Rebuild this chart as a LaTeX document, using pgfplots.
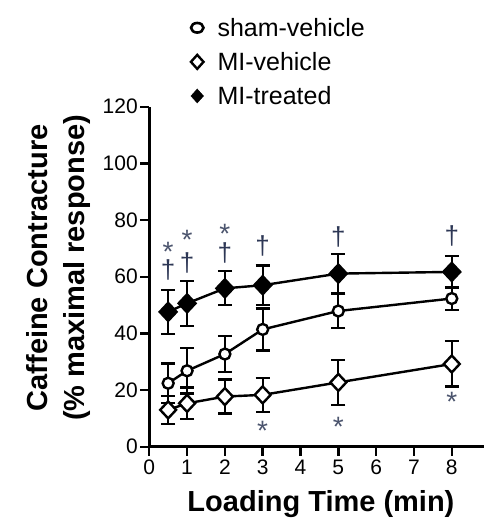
\documentclass[border=0pt]{standalone}
\usepackage{pgfplots}
\pgfplotsset{compat=1.18}
\usepackage{fontspec}
\setmainfont{Liberation Sans}
\definecolor{annot}{RGB}{45,55,85}
\newcommand\lowast{\raisebox{-0.42em}[0.32em][0pt]{*}}
\newcommand\tdag{\raisebox{0pt}[0.68em][0.08em]{†}}
\newcommand\tickfont{\fontsize{21}{24}\selectfont}
\begin{document}
\begin{tikzpicture}
\begin{axis}[
    scale only axis,
    width=334.7pt, height=340pt,
    xmin=0, xmax=8.85, ymin=0, ymax=120,
    axis x line=bottom, axis y line=left,
    axis line style={-, line width=2.6pt},
    xtick={0,1,...,8}, ytick={0,20,...,120},
    tick align=outside, major tick length=9pt,
    tick style={line width=2.4pt, black},
    /pgf/number format/assume math mode=true,
    xticklabel={\tickfont\pgfmathprintnumber{\tick}},
    yticklabel={\tickfont\pgfmathprintnumber{\tick}},
    xticklabel style={yshift=-1pt},
    yticklabel style={xshift=1pt},
    xlabel={Loading Time (min)},
    ylabel={Caffeine Contracture\\(\% maximal response)},
    xlabel style={font=\bfseries\fontsize{29}{37}\selectfont, at={(axis description cs:0.513,0)}, anchor=center, yshift=-57pt},
    ylabel style={font=\bfseries\fontsize{29}{37}\selectfont, align=center, at={(axis description cs:-0.271,0.526)}, anchor=center, rotate=0},
    clip=false,
    legend style={draw=none, fill=none, font=\fontsize{25}{30}\selectfont,
        at={(axis description cs:0.115,1)}, anchor=north west, yshift=93pt,
        row sep=10.5pt, cells={anchor=west}},
    error bars/y dir=both, error bars/y explicit,
    error bars/error bar style={line width=2.3pt, solid},
    error bars/error mark options={rotate=90, mark size=7pt, line width=2.3pt},
]
\addlegendimage{only marks, mark=o, mark size=4.8pt, mark options={line width=2.6pt, xscale=1.3}}
\addlegendentry{\hspace*{12pt}sham-vehicle}
\addlegendimage{only marks, mark=diamond, mark size=7pt, mark options={line width=2.4pt, xscale=1.2}}
\addlegendentry{\hspace*{12pt}MI-vehicle}
\addlegendimage{only marks, mark=diamond*, mark size=7pt, mark options={fill=black, xscale=1.2}}
\addlegendentry{\hspace*{12pt}MI-treated}

% sham-vehicle
\addplot[forget plot, black, line width=2.4pt, mark=*, mark size=5.5pt, mark options={fill=white, line width=2.4pt}]
  coordinates {(0.5,22.4) +- (0,7) (1,26.8) +- (0,8) (2,32.7) +- (0,6.3)
               (3,41.4) +- (0,7.4) (5,47.9) +- (0,6) (8,52.3) +- (0,4)};
% MI-vehicle
\addplot[forget plot, black, line width=2.4pt, mark=diamond*, mark size=8.5pt, mark options={fill=white, line width=2.4pt, xscale=1.25}]
  coordinates {(0.5,13) +- (0,5) (1,15.3) +- (0,5.6) (2,17.7) +- (0,6)
               (3,18.3) +- (0,6) (5,22.7) +- (0,8) (8,29.2) +- (0,8)};
% MI-treated
\addplot[forget plot, black, line width=2.4pt, mark=diamond*, mark size=9pt, mark options={fill=black, xscale=1.25}]
  coordinates {(0.5,47.6) +- (0,7.7) (1,50.6) +- (0,8) (2,55.9) +- (0,6)
               (3,57) +- (0,7) (5,61.1) +- (0,7) (8,61.7) +- (0,5.5)};

% significance marks
\addplot[forget plot, draw=none, mark=none, nodes near coords, point meta=explicit symbolic,
    nodes near coords style={anchor=center, inner sep=0pt, text=annot, font=\fontsize{26}{28}\selectfont}]
  coordinates {(0.5,62.0)[\tdag] (1,64.5)[\tdag] (2,68.3)[\tdag] (3,70.7)[\tdag] (5,73.8)[\tdag] (8,74.1)[\tdag]};
\addplot[forget plot, draw=none, mark=none, nodes near coords, point meta=explicit symbolic,
    nodes near coords style={anchor=center, inner sep=0pt, text=annot!85, font=\fontsize{28}{28}\selectfont}]
  coordinates {(0.5,71.2)[\lowast] (1,75.2)[\lowast] (2,77.4)[\lowast]
               (3,8.0)[\lowast] (5,9.4)[\lowast] (8,18.0)[\lowast]};

\coordinate (bbll) at (rel axis cs:-0.446,-0.2215);
\coordinate (bbur) at (rel axis cs:1.0,1.314);
\end{axis}
\pgfresetboundingbox
\path[use as bounding box] (bbll) rectangle (bbur);
\end{tikzpicture}
\end{document}
